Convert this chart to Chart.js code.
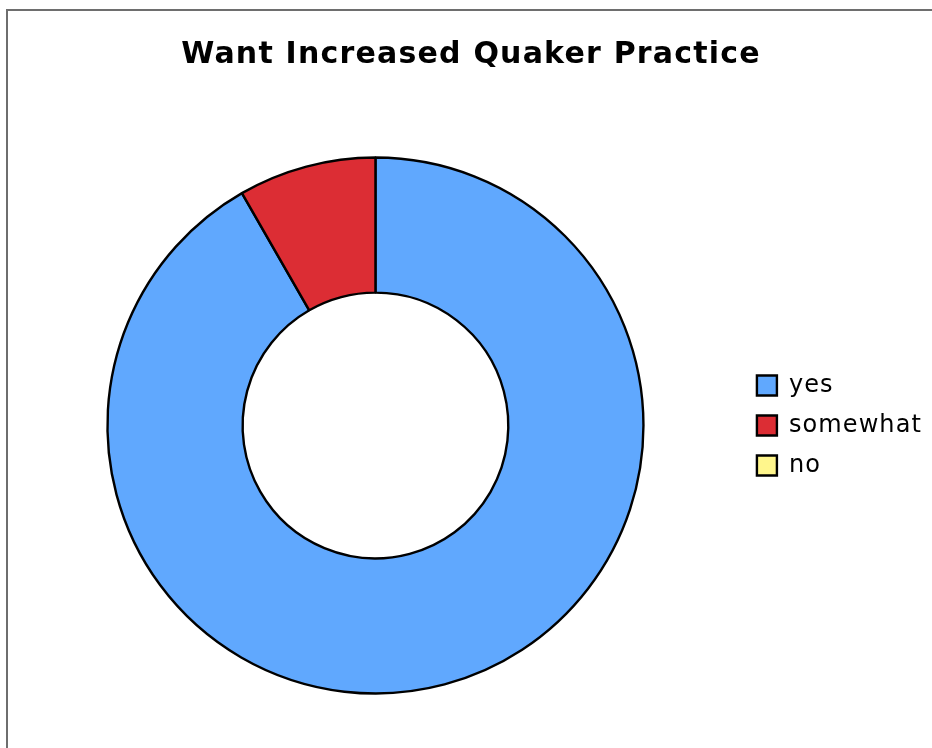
<!DOCTYPE html>
<html>
<head>
<meta charset="utf-8">
<script src="https://cdn.jsdelivr.net/npm/chart.js@4.4.1/dist/chart.umd.min.js"></script>
<style>
  html, body { margin: 0; padding: 0; background: #ffffff; }
  #wrap { position: relative; width: 932px; height: 748px; overflow: hidden; }
  #frame { position: absolute; left: 6px; top: 9px; width: 1000px; height: 1000px;
           border-left: 2px solid #6e6e6e; border-top: 2px solid #6e6e6e; box-sizing: border-box; }
  canvas { position: absolute; left: 0; top: 0; }
</style>
</head>
<body>
<div id="wrap">
  <div id="frame"></div>
  <canvas id="c" width="932" height="748"></canvas>
</div>
<script>
const chartTitle = 'Want Increased Quaker Practice';
const categories = ['yes', 'somewhat', 'no'];
const percentages = [91.7, 8.3, 0];
const sliceColors = ['#60a8fe', '#dc2d34', '#fff68c'];

// Verdana-like wide text: add letter spacing to title and legend text
const spacingPlugin = {
  id: 'spacing',
  afterInit(chart) {
    const wrap = (obj, name, spacing) => {
      const orig = obj[name].bind(obj);
      obj[name] = function (...args) {
        const ctx = chart.ctx;
        const prev = ctx.letterSpacing;
        ctx.letterSpacing = spacing;
        const r = orig(...args);
        ctx.letterSpacing = prev;
        return r;
      };
    };
    if (chart.legend) { wrap(chart.legend, 'fit', '1.1px'); wrap(chart.legend, 'draw', '1.1px'); }
    if (chart.titleBlock) { wrap(chart.titleBlock, 'draw', '1.2px'); }
  }
};

new Chart(document.getElementById('c'), {
  type: 'doughnut',
  data: {
    labels: categories,
    datasets: [{
      data: percentages,
      backgroundColor: sliceColors,
      borderColor: '#000000',
      borderWidth: 2.4,
      radius: 268,
      cutout: 133
    }]
  },
  plugins: [spacingPlugin],
  options: {
    responsive: false,
    animation: false,
    layout: { padding: { left: 10, right: 0, top: 0, bottom: 53 } },
    plugins: {
      title: {
        display: true,
        text: chartTitle,
        color: '#000000',
        font: { family: 'DejaVu Sans', size: 30, weight: 'bold', lineHeight: 1.2 },
        padding: { top: 37, bottom: 83 }
      },
      legend: {
        position: 'right',
        fullSize: false,
        labels: {
          color: '#000000',
          font: { family: 'DejaVu Sans', size: 24 },
          boxWidth: 20,
          boxHeight: 20,
          padding: 16
        }
      },
      tooltip: { enabled: false }
    }
  }
});
</script>
</body>
</html>
